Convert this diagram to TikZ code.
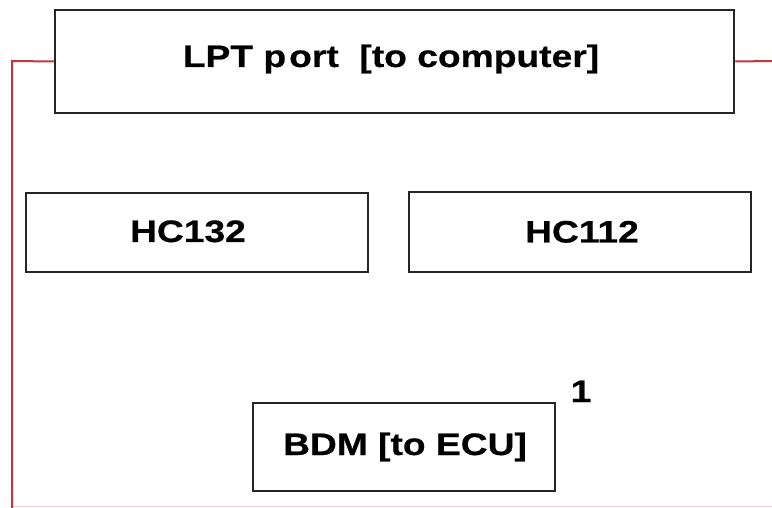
\documentclass[tikz,border=0pt]{standalone}
\usepackage{fontspec}
\newfontfamily\boxfont[FakeStretch=1.2,FakeBold=0.6]{Liberation Sans}
\begin{document}
\begin{tikzpicture}[x=1pt,y=-1pt,
  box/.style={draw=black!85, line width=2.5pt, fill=white, inner sep=0pt},
  txt/.style={font=\boxfont\bfseries\fontsize{31}{31}\selectfont, inner sep=0pt, anchor=base},
  wire/.style={draw={rgb,255:red,195;green,55;blue,60}, line width=2pt},
  faint/.style={draw={rgb,255:red,245;green,205;blue,208}, line width=1.2pt}]
\useasboundingbox (0,0) rectangle (772,508);
\fill[white] (0,0) rectangle (772,508);
% boxes
\node[box, minimum width=679pt, minimum height=103pt] (lpt) at (394.5,61.5) {};
\node[box, minimum width=342pt, minimum height=79pt] (hc132) at (197,232.5) {};
\node[box, minimum width=342pt, minimum height=80pt] (hc112) at (580,232) {};
\node[box, minimum width=302pt, minimum height=88pt] (bdm) at (404,447) {};
% texts
\node[txt] (tlpt) at (391,67) {LPT p\hspace{3pt}ort\ \ [to computer]};
\node[txt] (thc132) at (188,242) {HC132};
\node[txt] (thc112) at (582,242.5) {HC112};
\node[txt] (tbdm) at (405,455) {BDM [to ECU]};
\node[txt] (one) at (581,402) {1};
% wires
\coordinate (lcorner) at (12,61);
\coordinate (lbottom) at (12,508);
\coordinate (rend) at (772,61);
\coordinate (bleft) at (13,506.5);
\coordinate (bright) at (772,506.5);
\draw[faint] (bleft) -- (bright);
\draw[wire] (lpt.west) -- (lcorner) -- (lbottom);
\draw[wire] (lpt.east) -- (rend);
\end{tikzpicture}
\end{document}
